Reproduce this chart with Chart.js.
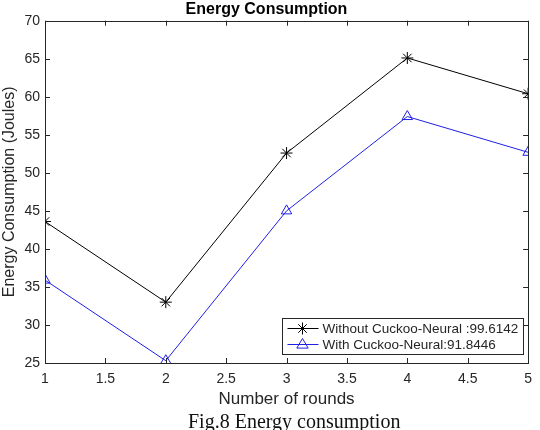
<!DOCTYPE html>
<html>
<head>
<meta charset="utf-8">
<script src="https://cdn.jsdelivr.net/npm/chart.js@4"></script>
<style>
  body { margin: 0; background: #fff; }
  #wrap { position: relative; width: 540px; height: 430px; overflow: hidden; }
  #caption {
    position: absolute; left: 188px; top: 411px; width: 220px;
    font: 20px/20px "Liberation Serif", "Times New Roman", serif; color: #111;
    white-space: nowrap;
  }
</style>
</head>
<body>
<div id="wrap">
  <canvas id="myChart" width="540" height="430"></canvas>
  <div id="caption">Fig.8 Energy consumption</div>
</div>
<script>
// rounds on the x axis
const rounds = [1, 2, 3, 4, 5];
// energy values
const withoutCuckoo = [43.6, 33.0, 52.6, 65.1, 60.4];
const withCuckoo = [35.9, 25.3, 45.0, 57.4, 52.7];
const seriesLabels = ['Without Cuckoo-Neural :99.6142', 'With Cuckoo-Neural:91.8446'];
const seriesColors = ['#000000', '#1f1fe6'];
const seriesMarkers = ['star', 'triangle'];

const axisColor = '#262626';

function toPoints(ys) {
    return rounds.map((r, i) => ({ x: r, y: ys[i] }));
}

// draw a marker by hand (used for the legend samples)
function drawMarker(c, style, x, y, r, color) {
    c.save();
    c.strokeStyle = color;
    c.lineWidth = 1;
    c.beginPath();
    if (style === 'star') {
        for (let k = 0; k < 4; k++) {
            const a = k * Math.PI / 4;
            c.moveTo(x - r * Math.cos(a), y - r * Math.sin(a));
            c.lineTo(x + r * Math.cos(a), y + r * Math.sin(a));
        }
    } else {
        c.moveTo(x, y - r);
        c.lineTo(x + r * 0.95, y + r * 0.6);
        c.lineTo(x - r * 0.95, y + r * 0.6);
        c.closePath();
    }
    c.stroke();
    c.restore();
}

// matlab style box, inward ticks and legend inside the plot
const matlabBox = {
    id: 'matlabBox',
    afterDatasetsDraw(chart) {
        const c = chart.ctx;
        const a = chart.chartArea;
        const sx = chart.scales.x, sy = chart.scales.y;
        const len = 5;
        c.save();
        c.strokeStyle = axisColor;
        c.lineWidth = 1;
        c.beginPath();
        sx.ticks.forEach(t => {
            const px = Math.round(sx.getPixelForValue(t.value)) + 0.5;
            c.moveTo(px, a.bottom); c.lineTo(px, a.bottom - len);
            c.moveTo(px, a.top); c.lineTo(px, a.top + len);
        });
        sy.ticks.forEach(t => {
            const py = Math.round(sy.getPixelForValue(t.value)) + 0.5;
            c.moveTo(a.left, py); c.lineTo(a.left + len, py);
            c.moveTo(a.right, py); c.lineTo(a.right - len, py);
        });
        c.stroke();
        c.strokeRect(Math.round(a.left) + 0.5, Math.round(a.top) + 0.5,
            Math.round(a.right - a.left), Math.round(a.bottom - a.top));

        // legend
        const bx = 282.5, by = 318.5, bw = 241, bh = 36;
        c.fillStyle = '#fff';
        c.fillRect(bx, by, bw, bh);
        c.strokeStyle = axisColor;
        c.strokeRect(bx, by, bw, bh);
        c.font = '13.5px "Liberation Sans", Arial, sans-serif';
        c.textBaseline = 'middle';
        seriesLabels.forEach((lab, i) => {
            const yy = by + 10 + i * 16;
            c.strokeStyle = seriesColors[i];
            c.beginPath();
            c.moveTo(bx + 5, yy); c.lineTo(bx + 36, yy);
            c.stroke();
            drawMarker(c, seriesMarkers[i], bx + 20, yy, 6, seriesColors[i]);
            c.fillStyle = axisColor;
            c.fillText(lab, bx + 40, yy + 0.5);
        });
        c.restore();
    }
};

const ctx = document.getElementById('myChart').getContext('2d');
const myChart = new Chart(ctx, {
    type: 'line',
    data: {
        datasets: [{
            label: seriesLabels[0],
            data: toPoints(withoutCuckoo),
            borderColor: seriesColors[0],
            backgroundColor: 'transparent',
            borderWidth: 1,
            pointStyle: seriesMarkers[0],
            pointRadius: 6,
            pointBorderWidth: 1,
            pointBorderColor: seriesColors[0],
            tension: 0
        }, {
            label: seriesLabels[1],
            data: toPoints(withCuckoo),
            borderColor: seriesColors[1],
            backgroundColor: 'transparent',
            borderWidth: 1,
            pointStyle: seriesMarkers[1],
            pointRadius: 6,
            pointBorderWidth: 1,
            pointBackgroundColor: 'transparent',
            pointBorderColor: seriesColors[1],
            tension: 0
        }]
    },
    options: {
        responsive: false,
        animation: false,
        layout: { padding: { left: 0, right: 7, top: 0, bottom: 17 } },
        plugins: {
            legend: { display: false },
            tooltip: { enabled: false },
            title: {
                display: true,
                text: 'Energy Consumption',
                color: '#000',
                font: { family: '"Liberation Sans", Arial, sans-serif', size: 16, weight: 'bold', lineHeight: 1.2 },
                padding: { top: 0, bottom: 1.5 }
            }
        },
        scales: {
            x: {
                type: 'linear',
                min: 1,
                max: 5,
                grid: { display: false, drawTicks: false },
                border: { display: false },
                ticks: {
                    stepSize: 0.5,
                    color: axisColor,
                    padding: 8,
                    font: { family: '"Liberation Sans", Arial, sans-serif', size: 14 },
                    callback: v => String(v)
                },
                title: {
                    display: true,
                    text: 'Number of rounds',
                    color: axisColor,
                    padding: { top: 2, bottom: 3 },
                    font: { family: '"Liberation Sans", Arial, sans-serif', size: 17 }
                },
                afterFit: s => { s.height = 50; }
            },
            y: {
                min: 25,
                max: 70,
                grid: { display: false, drawTicks: false },
                border: { display: false },
                ticks: {
                    stepSize: 5,
                    color: axisColor,
                    padding: 5,
                    font: { family: '"Liberation Sans", Arial, sans-serif', size: 14 }
                },
                title: {
                    display: true,
                    text: 'Energy Consumption (Joules)',
                    color: axisColor,
                    padding: { top: 0, bottom: 1 },
                    font: { family: '"Liberation Sans", Arial, sans-serif', size: 16 }
                },
                afterFit: s => { s.width = 45; }
            }
        }
    },
    plugins: [matlabBox]
});
</script>
</body>
</html>
